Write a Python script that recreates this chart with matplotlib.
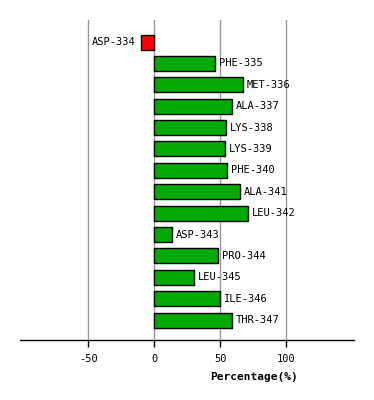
import matplotlib
matplotlib.use("Agg")
import matplotlib.pyplot as plt

residues = ["ASP-334", "PHE-335", "MET-336", "ALA-337", "LYS-338", "LYS-339",
            "PHE-340", "ALA-341", "LEU-342", "ASP-343", "PRO-344", "LEU-345",
            "ILE-346", "THR-347"]
values = [-9.8, 45.7, 67.0, 58.6, 54.0, 53.3, 54.8, 64.7, 71.2, 13.6, 48.5,
          30.3, 49.5, 59.1]
xticks = [-50, 0, 50, 100]

fig = plt.figure(figsize=(3.74, 4.0), dpi=100)
ax = fig.add_axes([20 / 374, 60 / 400, 334 / 374, 320 / 400])

colors = ["#ff0000" if v < 0 else "#00aa00" for v in values]
pos = list(range(len(residues)))
ax.barh(pos, values, height=0.7, color=colors, edgecolor="black",
        linewidth=1.0, zorder=3)

for i, (name, v) in enumerate(zip(residues, values)):
    if v < 0:
        ax.text(v - 4, i, name, ha="right", va="center",
                family="DejaVu Sans Mono", fontsize=7.5, zorder=4)
    else:
        ax.text(v + 3, i, name, ha="left", va="center",
                family="DejaVu Sans Mono", fontsize=7.5, zorder=4)

ax.set_xlim(-101.7, 151.3)
ax.set_ylim(13.93, -1.03)
ax.set_xticks(xticks)
ax.set_xticklabels([str(t) for t in xticks], family="DejaVu Sans Mono",
                   fontsize=7.5)
ax.set_yticks([])
ax.grid(axis="x", color="#999999", linewidth=1.0, zorder=0)

for s in ["top", "left", "right"]:
    ax.spines[s].set_visible(False)
ax.spines["bottom"].set_linewidth(1.0)
ax.tick_params(axis="x", direction="out", length=5, width=1.0, pad=5)

ax.set_xlabel("Percentage(%)", family="DejaVu Sans Mono", fontsize=8,
              fontweight="bold")
ax.xaxis.set_label_coords(0.70, -0.1)

fig.savefig("out.png", dpi=100)
